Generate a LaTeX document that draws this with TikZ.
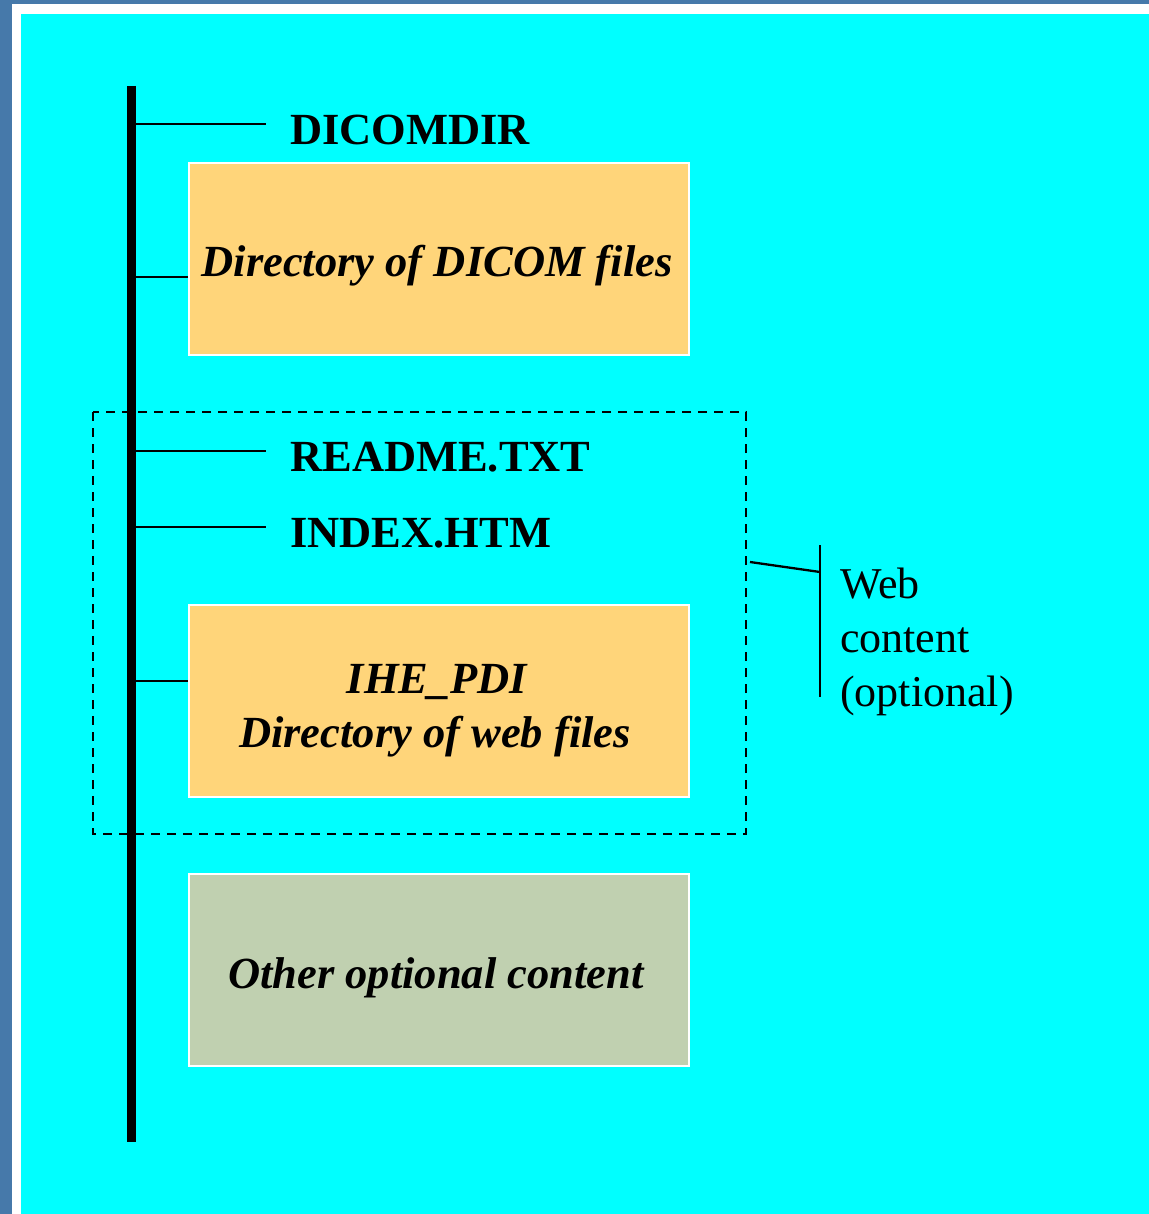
\documentclass[tikz,border=0pt]{standalone}
\usepackage{fontspec}
\setmainfont{Liberation Serif}
\definecolor{frameblue}{RGB}{70,121,170}
\definecolor{bgcyan}{RGB}{0,255,255}
\definecolor{boxorange}{RGB}{255,213,122}
\definecolor{boxgreen}{RGB}{192,208,176}
\tikzset{
  filebox/.style={draw=white, line width=2pt, minimum width=500pt, minimum height=192pt, inner sep=0pt},
  branch/.style={line width=2.3pt, black},
  lbl/.style={font=\fontsize{44.5}{54}\selectfont\bfseries, inner sep=0pt, anchor=base west},
  boxtxt/.style={font=\fontsize{44.5}{54}\selectfont\bfseries\itshape, inner sep=0pt, anchor=base},
  note/.style={font=\fontsize{44}{54}\selectfont, inner sep=0pt, anchor=base west, align=left}
}
\begin{document}
\begin{tikzpicture}[x=1pt,y=-1pt]
\useasboundingbox (0,0) rectangle (1148,1214);
\fill[frameblue] (-5,-5) rectangle (1160,1230);
\fill[white] (12,4) rectangle (1160,1230);
\fill[bgcyan] (21,14) rectangle (1160,1230);
% boxes
\node[filebox, fill=boxorange] (box1) at (439,259) {};
\node[filebox, fill=boxorange] (box2) at (439,700.5) {};
\node[filebox, fill=boxgreen] (box3) at (439,969.5) {};
\node[boxtxt] (t1) at (437,277) {Directory of DICOM files};
\node[boxtxt] (t2a) at (437,693) {IHE\_PDI};
\node[boxtxt] (t2b) at (435,747) {Directory of web files};
\node[boxtxt] (t3) at (436,988) {Other optional content};
% dashed group
\draw[line width=2pt, dash pattern=on 9pt off 7pt] (93,412) rectangle (746,834);
\coordinate (grpE) at (750,562);
% spine
\coordinate (top) at (131.5,86);
\coordinate (bot) at (131.5,1142);
\draw[line width=9pt] (top) -- (bot);
% labels
\node[lbl] (dicomdir) at (290,145) {DICOMDIR};
\node[lbl] (readme) at (290,471) {README.TXT};
\node[lbl] (index) at (290,547) {INDEX.HTM};
% branches
\coordinate (b1) at (136,124);
\coordinate (b2) at (136,277);
\coordinate (b3) at (136,451);
\coordinate (b4) at (136,527);
\coordinate (b5) at (136,681);
\coordinate (e1) at (266,124);
\coordinate (e3) at (266,451);
\coordinate (e4) at (266,527);
\draw[branch] (b1) -- (e1);
\draw[branch] (b2) -- (b2 -| box1.west);
\draw[branch] (b3) -- (e3);
\draw[branch] (b4) -- (e4);
\draw[branch] (b5) -- (b5 -| box2.west);
% bracket
\coordinate (brT) at (820,545);
\coordinate (brB) at (820,697);
\coordinate (brM) at (820,572);
\draw[branch] (brT) -- (brB);
\draw[branch] (grpE) -- (brM);
\node[note] (web) at (840,706) {Web\\content\\(optional)};
\end{tikzpicture}
\end{document}
